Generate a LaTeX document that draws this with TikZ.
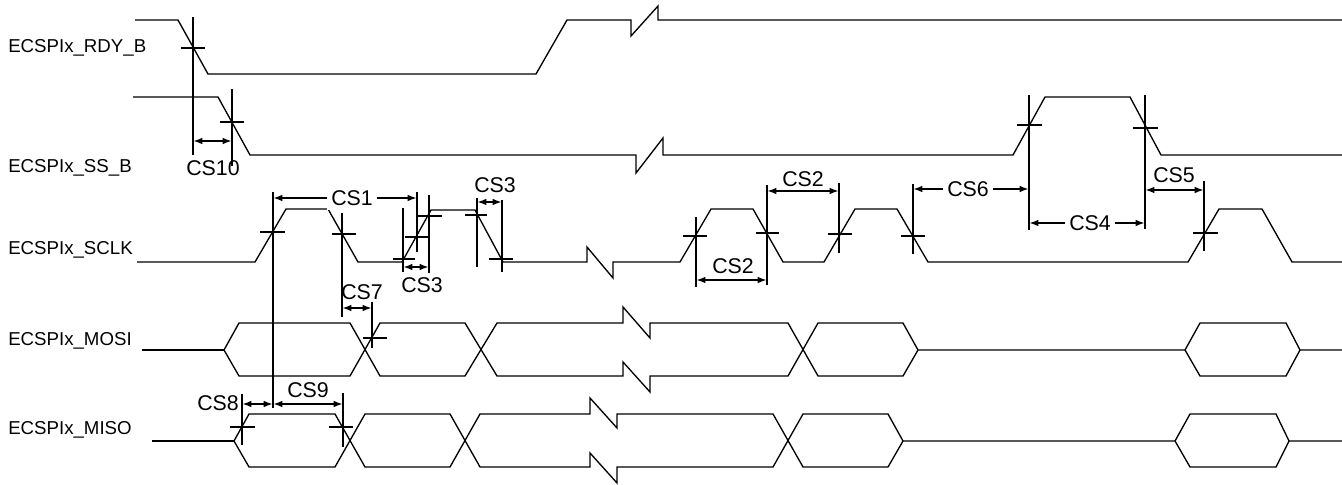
\documentclass[tikz,border=0pt]{standalone}
\usepackage{fontspec}
\usepackage{tikz}
\usetikzlibrary{arrows.meta}
\newfontfamily\arialfont{Liberation Sans}

\begin{document}
\begin{tikzpicture}[x=0.75pt,y=-0.75pt,
    sig/.style={line width=1pt, line join=miter},
    dim/.style={line width=1.5pt},
    dimarr/.style={line width=1.5pt, {Latex[length=7pt,width=5pt]}-{Latex[length=7pt,width=5pt]}},
    signame/.style={anchor=west, inner sep=0pt, font=\arialfont\fontsize{14}{16}\selectfont},
    cslabel/.style={inner sep=1pt, font=\arialfont\fontsize{16}{18}\selectfont},
    csgap/.style={cslabel, fill=white, inner sep=3pt}]
    \useasboundingbox (0,0) rectangle (1342,485);

    % signal names
    \node[signame] (rdy)  at (8,48)  {ECSPIx\_RDY\_B};
    \node[signame] (ss)   at (8,168) {ECSPIx\_SS\_B};
    \node[signame] (sclk) at (8,250) {ECSPIx\_SCLK};
    \node[signame] (mosi) at (8,341) {ECSPIx\_MOSI};
    \node[signame] (miso) at (8,430) {ECSPIx\_MISO};

    % RDY_B
    \draw[sig] (135,20) -- (178,20) -- (208,74) -- (536,74) -- (567,20) -- (631,20)
        -- (631,36) -- (658,6) -- (658,20) -- (1342,20);

    % SS_B
    \draw[sig] (133,97) -- (218,97) -- (250,155) -- (636,155) -- (636,173) -- (663,138)
        -- (663,155) -- (1013,155) -- (1045,97) -- (1130,97) -- (1161,155) -- (1342,155);

    % SCLK
    \draw[sig] (137,262) -- (255,262) -- (286,209) -- (328,209) -- (358,262) -- (402,262)
        -- (431,210) -- (475,210) -- (503,262) -- (587,262) -- (587,247) -- (613,278)
        -- (613,262) -- (680,262) -- (711,209) -- (753,209) -- (783,262) -- (824,262)
        -- (855,209) -- (897,209) -- (928,262) -- (1188,262) -- (1219,209) -- (1262,209)
        -- (1292,262) -- (1342,262);

    % MOSI
    \draw[sig] (142,350) -- (224,350);
    \draw[sig] (224,350) -- (239,323) -- (350,323) -- (380,376) -- (465,376) -- (497,323)
        -- (623,323) -- (623,307) -- (650,338) -- (650,323) -- (788,323) -- (818,376)
        -- (903,376) -- (918,350);
    \draw[sig] (224,350) -- (239,376) -- (350,376) -- (380,323) -- (465,323) -- (497,376)
        -- (623,376) -- (623,362) -- (650,392) -- (650,376) -- (788,376) -- (818,323)
        -- (903,323) -- (918,350);
    \draw[sig] (918,350) -- (1185,350) -- (1200,323) -- (1286,323) -- (1300,350) -- (1342,350);
    \draw[sig] (1185,350) -- (1200,376) -- (1286,376) -- (1300,350);

    % MISO
    \draw[sig] (152,441) -- (234,441);
    \draw[sig] (234,441) -- (249,414) -- (335,414) -- (365,467) -- (450,467) -- (480,414)
        -- (590,414) -- (590,398) -- (617,428) -- (617,414) -- (773,414) -- (803,467)
        -- (888,467) -- (903,441);
    \draw[sig] (234,441) -- (249,467) -- (335,467) -- (365,414) -- (450,414) -- (480,467)
        -- (590,467) -- (590,453) -- (617,483) -- (617,467) -- (773,467) -- (803,414)
        -- (888,414) -- (903,441);
    \draw[sig] (903,441) -- (1175,441) -- (1190,414) -- (1276,414) -- (1289,441) -- (1342,441);
    \draw[sig] (1175,441) -- (1190,467) -- (1276,467) -- (1289,441);

    % reference lines
    \draw[dim] (193,17) -- (193,155);
    \draw[dim] (232,89) -- (232,166);
    \draw[dim] (1029,95) -- (1029,230);
    \draw[dim] (1145,95) -- (1145,229);
    \draw[dim] (273,192) -- (273,408);
    \draw[dim] (342,213) -- (342,317);
    \draw[dim] (403,208) -- (403,272);
    \draw[dim] (417,192) -- (417,252);
    \draw[dim] (429,195) -- (429,273);
    \draw[dim] (477,198) -- (477,267);
    \draw[dim] (502,200) -- (502,272);
    \draw[dim] (696,217) -- (696,287);
    \draw[dim] (767,185) -- (767,285);
    \draw[dim] (839,183) -- (839,253);
    \draw[dim] (913,184) -- (913,254);
    \draw[dim] (1204,181) -- (1204,251);
    \draw[dim] (372,302) -- (372,348);
    \draw[dim] (242,394) -- (242,445);
    \draw[dim] (343,393) -- (343,447);

    % crossing ticks
    \draw[dim] (181,48) -- (205,48);
    \draw[dim] (220,122) -- (244,122);
    \draw[dim] (1017,125) -- (1042,125);
    \draw[dim] (1133,128) -- (1158,128);
    \draw[dim] (260,232) -- (285,232);
    \draw[dim] (332,234) -- (356,234);
    \draw[dim] (393,259) -- (415,259);
    \draw[dim] (405,237) -- (428,237);
    \draw[dim] (417,216) -- (442,216);
    \draw[dim] (465,215) -- (487,215);
    \draw[dim] (489,259) -- (513,259);
    \draw[dim] (683,236) -- (707,236);
    \draw[dim] (756,233) -- (779,233);
    \draw[dim] (828,234) -- (852,234);
    \draw[dim] (901,236) -- (925,236);
    \draw[dim] (1193,233) -- (1218,233);
    \draw[dim] (363,338) -- (387,338);
    \draw[dim] (230,427) -- (255,427);
    \draw[dim] (329,427) -- (353,427);

    % timing arrows
    \draw[dimarr] (193,141) -- (232,141);
    \node[cslabel] (cs10) at (213,168) {CS10};
    \draw[dimarr] (273,198) -- (417,198);
    \node[csgap] (cs1) at (352,198) {CS1};
    \draw[dimarr] (403,267) -- (429,267);
    \node[cslabel] (cs3a) at (422,285) {CS3};
    \draw[dimarr] (477,202) -- (502,202);
    \node[cslabel] (cs3b) at (495,185) {CS3};
    \draw[dimarr] (696,280) -- (767,280);
    \node[cslabel] (cs2a) at (733,266) {CS2};
    \draw[dimarr] (767,191) -- (839,191);
    \node[cslabel] (cs2b) at (803,179) {CS2};
    \draw[dimarr] (913,189) -- (1029,189);
    \node[csgap] (cs6) at (968,189) {CS6};
    \draw[dimarr] (1029,223) -- (1145,223);
    \node[csgap] (cs4) at (1090,223) {CS4};
    \draw[dimarr] (1145,190) -- (1204,190);
    \node[cslabel] (cs5) at (1174,175) {CS5};
    \draw[dimarr] (342,308) -- (372,308);
    \node[cslabel] (cs7) at (362,292) {CS7};
    \draw[dimarr] (242,404) -- (273,404);
    \node[cslabel] (cs8) at (218,403) {CS8};
    \draw[dimarr] (273,404) -- (343,404);
    \node[cslabel] (cs9) at (308,390) {CS9};
\end{tikzpicture}
\end{document}
